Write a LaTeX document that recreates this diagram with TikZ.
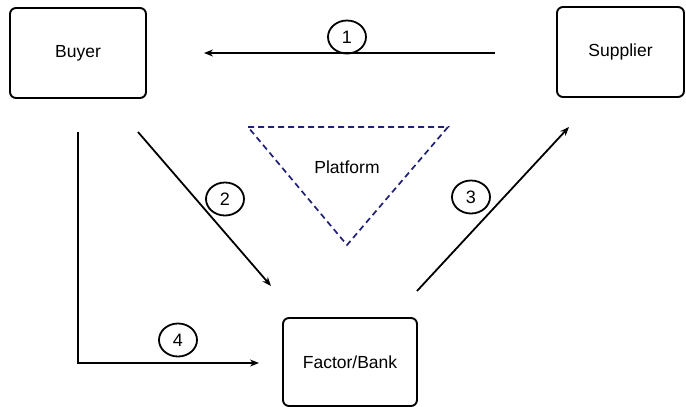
\documentclass[tikz,border=0pt]{standalone}
\usepackage{fontspec}
\setmainfont{Liberation Sans}
\usetikzlibrary{arrows.meta,shapes.geometric}
\begin{document}
\begin{tikzpicture}[x=1pt,y=-1pt,
  box/.style={draw, line width=1.9pt, rounded corners=6pt, inner sep=0pt, font=\fontsize{17.5}{20}\selectfont},
  num/.style={draw, line width=1.8pt, ellipse, minimum width=38pt, minimum height=33pt, inner sep=0pt, font=\fontsize{18}{20}\selectfont},
  conn/.style={line width=1.8pt, -{Stealth[length=9pt,width=7pt]}},
  plat/.style={draw=black!55!blue!75!gray, line width=1.7pt, dash pattern=on 6pt off 4pt}]
\useasboundingbox (0,0) rectangle (686,407);
\node[box, minimum width=136pt, minimum height=90pt] (buyer) at (78,53) {Buyer};
\node[box, minimum width=127pt, minimum height=90pt] (supplier) at (620.5,52) {Supplier};
\node[box, minimum width=134pt, minimum height=88pt] (bank) at (350,362) {Factor/Bank};
\coordinate (pa) at (248,127);
\coordinate (pb) at (448,127);
\coordinate (pc) at (347,245);
\draw[plat] (pa) -- (pb) -- (pc) -- cycle;
\node[font=\fontsize{17.5}{20}\selectfont] (plat) at (347,167) {Platform};
\coordinate (a1s) at (495,53);
\coordinate (a1e) at (204,53);
\draw[conn] (a1s) -- (a1e);
\node[num] (n1) at (347,37) {1};
\coordinate (a2s) at (138,132);
\coordinate (a2e) at (271,286);
\draw[conn] (a2s) -- (a2e);
\node[num] (n2) at (225,199) {2};
\coordinate (a3s) at (417,291);
\coordinate (a3e) at (569,127);
\draw[conn] (a3s) -- (a3e);
\node[num] (n3) at (471,197) {3};
\coordinate (a4s) at (78,132);
\coordinate (a4c) at (78,363);
\coordinate (a4e) at (259,363);
\draw[conn] (a4s) -- (a4c) -- (a4e);
\node[num] (n4) at (178,340) {4};
\end{tikzpicture}
\end{document}
